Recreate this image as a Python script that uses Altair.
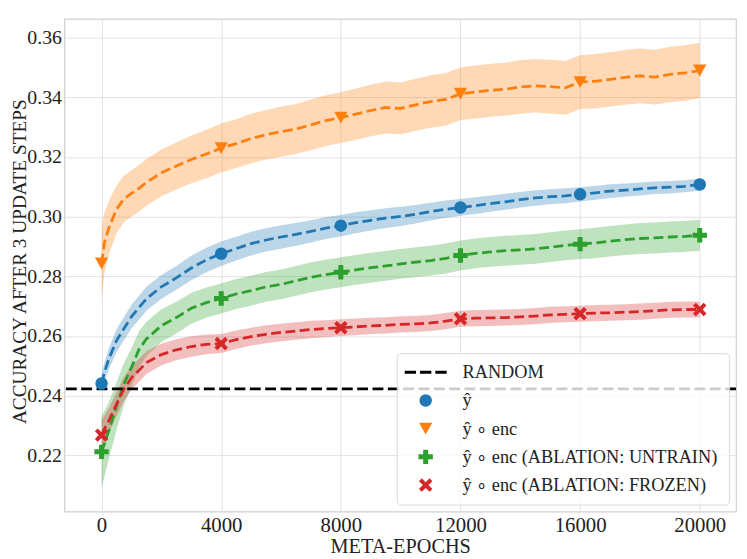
import altair as alt
import pandas as pd

epochs = [0, 100, 250, 500, 750, 1000, 1250, 1500,
          2000, 2500, 3000, 3500, 4000, 4500, 5000, 5500, 6000, 6500, 7000, 7500,
          8000, 8500, 9000, 9500, 10000, 10500, 11000, 11500, 12000, 12500, 13000, 13500,
          14000, 14500, 15000, 15500, 16000, 16500, 17000, 17500, 18000, 18500, 19000, 19500, 20000]

acc_yhat = [0.2441, 0.2480, 0.2525, 0.2585, 0.2625, 0.2665, 0.2695, 0.2725,
            0.2765, 0.2795, 0.2828, 0.2855, 0.2876, 0.2893, 0.2910, 0.2922, 0.2932, 0.2941, 0.2951, 0.2962,
            0.2970, 0.2980, 0.2988, 0.2995, 0.3001, 0.3008, 0.3017, 0.3025, 0.3031, 0.3037, 0.3044, 0.3050,
            0.3057, 0.3063, 0.3067, 0.3070, 0.3075, 0.3080, 0.3086, 0.3089, 0.3093, 0.3097, 0.3099, 0.3102, 0.3108]
spread_yhat = [0.0030, 0.0033, 0.0036, 0.0038, 0.0039, 0.0040, 0.0040, 0.0040,
               0.0040, 0.0040, 0.0041, 0.0041, 0.0041, 0.0040, 0.0040, 0.0039, 0.0039, 0.0038, 0.0037, 0.0037,
               0.0036, 0.0035, 0.0034, 0.0033, 0.0032, 0.0031, 0.0030, 0.0029, 0.0028, 0.0028, 0.0027, 0.0027,
               0.0026, 0.0026, 0.0025, 0.0025, 0.0024, 0.0023, 0.0023, 0.0022, 0.0022, 0.0021, 0.0021, 0.0020, 0.0020]

acc_enc = [0.2843, 0.2915, 0.2964, 0.3025, 0.3060, 0.3078, 0.3095, 0.3115,
           0.3147, 0.3170, 0.3192, 0.3210, 0.3230, 0.3245, 0.3262, 0.3275, 0.3285, 0.3294, 0.3308, 0.3322,
           0.3332, 0.3344, 0.3356, 0.3366, 0.3363, 0.3375, 0.3386, 0.3393, 0.3412, 0.3418, 0.3424, 0.3427,
           0.3435, 0.3439, 0.3436, 0.3432, 0.3451, 0.3454, 0.3460, 0.3467, 0.3472, 0.3468, 0.3477, 0.3482, 0.3490]
spread_enc = [0.0120, 0.0100, 0.0090, 0.0080, 0.0078, 0.0078, 0.0078, 0.0078,
              0.0078, 0.0079, 0.0080, 0.0081, 0.0082, 0.0082, 0.0083, 0.0083, 0.0084, 0.0084, 0.0085, 0.0085,
              0.0085, 0.0086, 0.0086, 0.0087, 0.0087, 0.0087, 0.0088, 0.0088, 0.0088, 0.0089, 0.0089, 0.0089,
              0.0090, 0.0090, 0.0090, 0.0090, 0.0090, 0.0091, 0.0091, 0.0092, 0.0092, 0.0092, 0.0093, 0.0093, 0.0093]

acc_untrain = [0.2212, 0.2240, 0.2285, 0.2365, 0.2440, 0.2495, 0.2555, 0.2590,
               0.2635, 0.2662, 0.2693, 0.2712, 0.2726, 0.2741, 0.2752, 0.2765, 0.2773, 0.2785, 0.2797, 0.2806,
               0.2814, 0.2822, 0.2829, 0.2835, 0.2842, 0.2848, 0.2853, 0.2860, 0.2870, 0.2877, 0.2882, 0.2886,
               0.2889, 0.2892, 0.2898, 0.2904, 0.2908, 0.2912, 0.2918, 0.2923, 0.2927, 0.2929, 0.2932, 0.2934, 0.2938]
spread_untrain = [0.0120, 0.0110, 0.0095, 0.0080, 0.0070, 0.0065, 0.0060, 0.0058,
                  0.0055, 0.0053, 0.0052, 0.0051, 0.0050, 0.0050, 0.0050, 0.0050, 0.0050, 0.0050, 0.0050, 0.0050,
                  0.0050, 0.0050, 0.0050, 0.0050, 0.0050, 0.0050, 0.0050, 0.0050, 0.0050, 0.0050, 0.0050, 0.0050,
                  0.0050, 0.0050, 0.0050, 0.0050, 0.0050, 0.0051, 0.0051, 0.0051, 0.0052, 0.0052, 0.0052, 0.0052, 0.0052]

acc_frozen = [0.2268, 0.2290, 0.2317, 0.2372, 0.2423, 0.2460, 0.2485, 0.2511,
              0.2538, 0.2554, 0.2565, 0.2572, 0.2575, 0.2588, 0.2598, 0.2606, 0.2612, 0.2617, 0.2622, 0.2625,
              0.2628, 0.2631, 0.2634, 0.2636, 0.2639, 0.2641, 0.2644, 0.2650, 0.2658, 0.2660, 0.2661, 0.2662,
              0.2664, 0.2667, 0.2671, 0.2673, 0.2675, 0.2677, 0.2678, 0.2680, 0.2682, 0.2685, 0.2688, 0.2689, 0.2689]
spread_frozen = [0.0050, 0.0045, 0.0042, 0.0040, 0.0040, 0.0040, 0.0039, 0.0038,
                 0.0036, 0.0035, 0.0034, 0.0033, 0.0032, 0.0031, 0.0030, 0.0030, 0.0029, 0.0029, 0.0029, 0.0028,
                 0.0028, 0.0028, 0.0027, 0.0027, 0.0027, 0.0027, 0.0027, 0.0027, 0.0027, 0.0027, 0.0027, 0.0027,
                 0.0027, 0.0027, 0.0027, 0.0027, 0.0027, 0.0027, 0.0027, 0.0027, 0.0027, 0.0027, 0.0027, 0.0027, 0.0027]

random_acc = 0.2423
marker_epochs = [0, 4000, 8000, 12000, 16000, 20000]
x_ticks = [0, 4000, 8000, 12000, 16000, 20000]
y_ticks = [0.22, 0.24, 0.26, 0.28, 0.30, 0.32, 0.34, 0.36]

names = ["RANDOM", "ŷ", "ŷ ∘ enc", "ŷ ∘ enc (ABLATION: UNTRAIN)", "ŷ ∘ enc (ABLATION: FROZEN)"]
colors = ["#000000", "#1f77b4", "#ff7f0e", "#2ca02c", "#d62728"]
shapes = [
    "M-3.35,-0.25H-1.55V0.25H-3.35Z M-0.9,-0.25H0.9V0.25H-0.9Z M1.55,-0.25H3.35V0.25H1.55Z",
    "circle",
    "M-1.06,-0.95L1.06,-0.95L0,0.95Z",
    "M-0.4,-1.15H0.4V-0.4H1.15V0.4H0.4V1.15H-0.4V0.4H-1.15V-0.4H-0.4Z",
    "M0.622,-1.075L1.075,-0.622L0.453,0L1.075,0.622L0.622,1.075L0,0.453L-0.622,1.075L-1.075,0.622L-0.453,0L-1.075,-0.622L-0.622,-1.075L0,-0.453Z",
]

frames = []
for name, acc, spread in [(names[1], acc_yhat, spread_yhat), (names[2], acc_enc, spread_enc),
                          (names[3], acc_untrain, spread_untrain), (names[4], acc_frozen, spread_frozen)]:
    d = pd.DataFrame({"epoch": epochs, "acc": acc, "spread": spread})
    d["series"] = name
    d["lo"] = d["acc"] - d["spread"]
    d["hi"] = d["acc"] + d["spread"]
    frames.append(d)
df = pd.concat(frames, ignore_index=True)
marks_df = df[df["epoch"].isin(marker_epochs)]

font = "Liberation Serif"
xscale = alt.Scale(domain=[-1243, 21213], nice=False, zero=False)
yscale = alt.Scale(domain=[0.2012, 0.3663], nice=False, zero=False)

xenc = alt.X("epoch:Q", scale=xscale,
             axis=alt.Axis(values=x_ticks, format="d", title="META-EPOCHS",
                           labelPadding=3, labelFontSize=21, titleFontSize=20.5,
                           titleY=41, titleBaseline="alphabetic"))
yenc = alt.Y("acc:Q", scale=yscale,
             axis=alt.Axis(values=y_ticks, format=".2f", title="ACCURACY AFTER 3 UPDATE STEPS",
                           labelPadding=3, labelFontSize=20, titleFontSize=19.5,
                           titleX=-39, titleY=245, titleBaseline="alphabetic"))

legend = alt.Legend(title=None, orient="none", legendX=336, legendY=338,
                    fillColor="rgba(255,255,255,0.8)", strokeColor="#d9d9d9", cornerRadius=4,
                    padding=10, labelFont=font, labelFontSize=18.5, labelColor="#222222",
                    rowPadding=9.5, symbolSize=160, symbolStrokeWidth=0, symbolOffset=10,
                    labelOffset=28, symbolOpacity=1, labelLimit=400)

bands = alt.Chart(df).mark_area(opacity=0.3).encode(
    x=xenc, y=alt.Y("lo:Q", scale=yscale), y2="hi:Q",
    color=alt.Color("series:N", scale=alt.Scale(domain=names, range=colors), legend=None))

lines = alt.Chart(df).mark_line(strokeDash=[10, 4.5], strokeWidth=2.8).encode(
    x=xenc, y=yenc,
    color=alt.Color("series:N", scale=alt.Scale(domain=names, range=colors), legend=None))

rand = alt.Chart(pd.DataFrame({"acc": [random_acc]})).mark_rule(
    color="black", strokeDash=[11, 4.5], strokeWidth=3).encode(y=alt.Y("acc:Q", scale=yscale))

points = alt.Chart(marks_df).mark_point(filled=True, opacity=1, size=160).encode(
    x=xenc, y=yenc,
    color=alt.Color("series:N", scale=alt.Scale(domain=names, range=colors), legend=legend),
    shape=alt.Shape("series:N", scale=alt.Scale(domain=names, range=shapes), legend=legend))

chart = alt.layer(bands, lines, rand, points).resolve_scale(
    color="independent", shape="independent"
).properties(
    width=679, height=498,
    autosize=alt.AutoSizeParams(type="none"),
    padding={"left": 57, "top": 8, "right": 3, "bottom": 45},
).configure_view(stroke="#d0d0d0", strokeWidth=1.2).configure_axis(
    grid=True, gridColor="#e2e2e2", gridWidth=1, domain=False, ticks=False,
    labelFont=font, labelColor="#222222",
    titleFont=font, titleFontWeight="normal", titleColor="#222222")

chart.save("out.html", embed_options={"renderer": "svg", "actions": False})
